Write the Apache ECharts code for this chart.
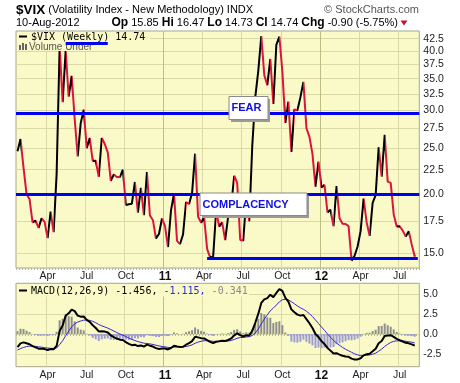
<!DOCTYPE html>
<html><head><meta charset="utf-8">
<script src="https://cdn.jsdelivr.net/npm/echarts@6/dist/echarts.min.js"></script>
<style>html,body{margin:0;padding:0;background:#fff}#c{width:460px;height:383px}</style>
</head><body><div id="c"></div>
<script>
// ---- data (weekly closes from 29-Jan-2010 to 10-Aug-2012) ----
const firstWeek = '2010-01-29';
const vix = [24.62,26.11,22.73,20.02,19.50,17.42,17.58,16.97,17.77,17.47,16.14,18.36,16.62,22.05,40.95,31.24,40.10,32.07,35.48,28.79,24.0,28.2,30.12,24.98,26.25,23.47,23.50,21.74,26.24,25.49,24.45,21.31,21.99,21.72,21.71,22.50,18.96,19.03,19.08,21.20,18.26,20.61,18.04,22.24,18.01,17.61,16.11,16.47,17.75,
17.14,15.46,18.47,20.04,15.93,15.69,16.43,19.22,19.06,20.1,24.32,17.91,17.40,17.87,15.32,14.69,14.75,18.40,17.07,17.43,15.98,17.95,18.86,21.85,21.10,16.0,15.95,19.5,17.52,25.25,32.00,36.36,43.05,35.59,33.92,38.52,30.98,41.25,42.96,36.27,28.24,31.32,24.53,30.16,30.04,32.00,34.47,27.52,26.38,24.29,20.73,23.40,
20.63,20.91,18.28,18.53,17.10,20.79,17.78,17.31,17.29,17.11,14.47,14.82,15.50,16.70,19.55,17.44,16.32,19.16,19.89,25.10,21.76,26.66,21.23,21.11,18.11,17.08,17.10,16.74,16.27,16.70,15.64,14.74];
const macd = [-1.65,-1.17,-1.05,-1.16,-1.28,-1.51,-1.67,-1.83,-1.86,-1.89,-2.0,-1.89,-1.91,
-1.48,0.39,1.07,2.29,2.59,3.06,2.86,2.3,2.17,2.19,1.77,1.52,1.09,0.75,0.32,0.35,0.3,0.18,-0.16,-0.38,-0.57,-0.71,-0.75,
-1.01,-1.24,-1.4,-1.34,-1.51,-1.44,-1.57,-1.33,-1.46,-1.57,-1.77,-1.87,-1.82,-1.82,-1.93,-1.75,-1.46,
-1.55,-1.62,-1.6,-1.34,-1.14,-0.89,-0.34,-0.42,-0.52,-0.56,-0.78,-0.99,-1.15,-0.97,-0.92,-0.84,-0.88,-0.75,-0.56,-0.17,0.07,-0.14,-0.31,-0.16,-0.19,
0.4,1.4,2.51,3.88,4.32,4.48,4.92,4.61,5.13,5.61,5.4,4.53,4.05,3.08,2.73,2.42,2.3,2.38,1.86,1.34,0.75,0.0,-0.38,
-0.89,-1.26,-1.74,-2.08,-2.44,-2.4,-2.58,-2.72,-2.81,-2.86,-3.08,-3.19,-3.18,-3.04,-2.67,-2.52,-2.46,-2.16,-1.85,-1.16,-0.88,-0.25,-0.19,-0.15,-0.35,-0.6,-0.78,-0.94,-1.09,-1.17,-1.3,-1.456];
const signal = [-2.0,-1.83,-1.68,-1.57,-1.52,-1.51,-1.55,-1.6,-1.65,-1.7,-1.76,-1.79,-1.81,
-1.75,-1.32,-0.84,-0.22,0.35,0.89,1.28,1.49,1.62,1.74,1.74,1.7,1.58,1.41,1.19,1.02,0.88,0.74,0.56,0.37,0.18,0.0,-0.15,
-0.32,-0.5,-0.68,-0.81,-0.95,-1.05,-1.15,-1.19,-1.24,-1.31,-1.4,-1.49,-1.56,-1.61,-1.68,-1.69,-1.64,
-1.63,-1.62,-1.62,-1.56,-1.48,-1.36,-1.16,-1.01,-0.91,-0.84,-0.83,-0.86,-0.92,-0.93,-0.93,-0.91,-0.9,-0.87,-0.81,-0.68,-0.53,-0.45,-0.43,-0.37,-0.34,
-0.19,0.13,0.61,1.26,1.87,2.39,2.9,3.24,3.62,4.02,4.29,4.34,4.28,4.04,3.78,3.51,3.27,3.09,2.84,2.54,2.18,1.75,1.32,
0.88,0.45,0.01,-0.41,-0.81,-1.13,-1.42,-1.68,-1.91,-2.1,-2.29,-2.47,-2.61,-2.7,-2.69,-2.66,-2.62,-2.53,-2.39,-2.15,-1.89,-1.56,-1.29,-1.06,-0.92,-0.86,-0.84,-0.86,-0.91,-0.96,-1.03,-1.115];
const hist = [0.35,0.66,0.63,0.41,0.24,0.0,-0.13,-0.23,-0.21,-0.19,-0.24,-0.10,-0.10,
0.27,1.71,1.91,2.51,2.24,2.17,1.58,0.81,0.55,0.45,0.03,-0.18,-0.49,-0.66,-0.87,-0.67,-0.58,-0.56,-0.72,-0.75,-0.75,-0.71,-0.60,
-0.69,-0.74,-0.72,-0.53,-0.56,-0.39,-0.42,-0.14,-0.22,-0.26,-0.37,-0.38,-0.26,-0.21,-0.26,-0.06,0.18,
0.08,0.0,0.02,0.22,0.34,0.47,0.82,0.59,0.39,0.28,0.05,-0.13,-0.23,-0.04,0.01,0.07,0.02,0.12,0.25,0.51,0.60,0.31,0.12,0.21,0.15,
0.59,1.27,1.91,2.62,2.45,2.09,2.02,1.37,1.51,1.59,1.11,0.19,-0.23,-0.96,-1.05,-1.09,-0.97,-0.71,-0.98,-1.20,-1.43,-1.75,-1.70,
-1.77,-1.71,-1.75,-1.68,-1.63,-1.27,-1.16,-1.04,-0.90,-0.76,-0.79,-0.72,-0.57,-0.34,0.02,0.14,0.16,0.37,0.54,0.99,1.01,1.31,1.10,0.91,0.57,0.26,0.06,-0.08,-0.18,-0.21,-0.27,-0.341];
const priceTicks = [15,17.5,20,22.5,25,27.5,30,32.5,35,37.5,40,42.5];
const macdTicks = [-2.5,0,2.5,5];
const tickIdx = [10,23,36,49,62,75,88,101,114,127];
const tickText = ['Apr','Jul','Oct','11','Apr','Jul','Oct','12','Apr','Jul'];
const yearIdx = [49,101];
const fearLevel = 29.63, complacencyLevel = 20, supportLevel = 14.62, supportFrom = 63;
const peakLevel = 41.6, peakFrom = 16, peakTo = 30;

// categories: one per week (+1 empty week at the right edge)
const weeks = [];
const t0 = Date.parse(firstWeek + 'T00:00:00Z');
for (let i = 0; i <= vix.length; i++) weeks.push(new Date(t0 + i * 7 * 864e5).toISOString().slice(0, 10));

const BG = '#FAFAC8', GRID = '#DADAA6', YEAR = '#BDBD86', FRAME = '#A6A68A';
const FONT = 'Liberation Sans, Arial, sans-serif';
const MONO = 'DejaVu Sans Mono, monospace';

const pieces = [];
for (let i = 1; i < vix.length; i++) pieces.push({gt: i - 1, lte: i, color: vix[i] >= vix[i - 1] ? '#000000' : '#DC143C'});

const isTick = i => tickIdx.indexOf(i) >= 0;
const labelFmt = (v, i) => { const k = tickIdx.indexOf(i); if (k < 0) return ''; const t = tickText[k]; return /^\d+$/.test(t) ? '{y|' + t + '}' : t; };
function xAxes(g) {
  return [{
    type: 'category', gridIndex: g, data: weeks, boundaryGap: true,
    axisLine: {show: false},
    axisTick: {show: true, interval: 0, length: 2, lineStyle: {color: '#B4B49A'}},
    axisLabel: {interval: (i) => isTick(i), formatter: labelFmt, margin: 3, color: '#222', fontSize: 10.5, fontFamily: FONT,
      rich: {y: {fontWeight: 'bold', fontSize: 12, fontFamily: FONT, color: '#111'}}},
    splitLine: {show: true, interval: (i) => isTick(i) && yearIdx.indexOf(i) < 0, lineStyle: {color: GRID, width: 1}}
  }, {
    type: 'category', gridIndex: g, data: weeks, boundaryGap: true, position: 'bottom',
    axisLine: {show: false}, axisTick: {show: false}, axisLabel: {show: false},
    splitLine: {show: true, interval: (i) => yearIdx.indexOf(i) >= 0, lineStyle: {color: YEAR, width: 1}}
  }];
}

const chart = echarts.init(document.getElementById('c'), null, {width: 460, height: 383});
const last = vix.length - 1;
chart.setOption({
  animation: false,
  backgroundColor: '#fff',
  grid: [
    {left: 16, top: 31, width: 403.3, height: 237, show: true, backgroundColor: BG, borderColor: FRAME, borderWidth: 1},
    {left: 16, top: 283.3, width: 403.3, height: 83.4, show: true, backgroundColor: BG, borderColor: FRAME, borderWidth: 1}
  ],
  xAxis: [...xAxes(0), ...xAxes(1)],
  yAxis: [{
    type: 'log', logBase: 10, gridIndex: 0, position: 'right', min: 13.963, max: 44.12,
    axisLine: {show: false}, axisTick: {show: false, customValues: priceTicks},
    axisLabel: {customValues: priceTicks, formatter: v => (+v).toFixed(1), margin: 4, color: '#222', fontSize: 10.5, fontFamily: FONT},
    splitLine: {show: true, lineStyle: {color: GRID}}
  }, {
    type: 'value', gridIndex: 1, position: 'right', min: -4.09, max: 6.34,
    axisLine: {show: false}, axisTick: {show: false, customValues: macdTicks},
    axisLabel: {customValues: macdTicks, formatter: v => (+v).toFixed(1), margin: 4, color: '#222', fontSize: 10.5, fontFamily: FONT},
    splitLine: {show: true, lineStyle: {color: GRID}}
  }],
  visualMap: [{type: 'piecewise', show: false, seriesIndex: 0, dimension: 0, pieces: pieces, outOfRange: {color: '#000'}}],
  series: [{
    type: 'line', name: 'VIX', xAxisIndex: 0, yAxisIndex: 0, data: vix, showSymbol: false, z: 2,
    lineStyle: {width: 2}, silent: true,
    markLine: {
      silent: true, symbol: ['none', 'none'], label: {show: false}, z: 5,
      lineStyle: {color: '#0000F0', width: 3, type: 'solid'}, emphasis: {disabled: true},
      data: [
        {yAxis: fearLevel},
        {yAxis: complacencyLevel},
        [{xAxis: weeks[supportFrom], yAxis: supportLevel}, {xAxis: weeks[weeks.length - 1], yAxis: supportLevel}],
        [{xAxis: weeks[peakFrom], yAxis: peakLevel}, {xAxis: weeks[peakTo], yAxis: peakLevel}]
      ]
    }
  }, {
    type: 'bar', name: 'Hist', xAxisIndex: 2, yAxisIndex: 1, data: hist, barWidth: 2, silent: true,
    itemStyle: {color: p => p.value >= 0 ? '#8E8E8E' : '#9C9CD6'}
  }, {
    type: 'line', name: 'Signal', xAxisIndex: 2, yAxisIndex: 1, data: signal, showSymbol: false, silent: true,
    lineStyle: {width: 1, color: '#3A22D6'}, itemStyle: {color: '#3A22D6'}
  }, {
    type: 'line', name: 'MACD', xAxisIndex: 2, yAxisIndex: 1, data: macd, showSymbol: false, silent: true,
    lineStyle: {width: 2, color: '#000'}, itemStyle: {color: '#000'}
  }],
  graphic: [
    // header
    {type: 'text', x: 16, y: 10, z: 10, style: {text: '{b|$VIX} {n|(Volatility Index - New Methodology) INDX}', verticalAlign: 'middle',
      font: '11px ' + FONT, fill: '#000',
      rich: {b: {font: 'bold 13.5px ' + FONT, fill: '#000'}, n: {font: '11px ' + FONT, fill: '#000'}}}},
    {type: 'text', x: 419, y: 10, z: 10, style: {text: '\u00A9 StockCharts.com', align: 'right', verticalAlign: 'middle', font: '11px ' + FONT, fill: '#555'}},
    {type: 'text', x: 16, y: 23, z: 10, style: {text: '10-Aug-2012', verticalAlign: 'middle', font: '11px ' + FONT, fill: '#000'}},
    {type: 'text', x: 398, y: 23, z: 10, style: {
      text: '{b|Op} {n|15.85} {b|Hi} {n|16.47} {b|Lo} {n|14.73} {b|Cl} {n|' + vix[last].toFixed(2) + '} {b|Chg} {n|-0.90 (-5.75%)}',
      align: 'right', verticalAlign: 'middle', font: '11px ' + FONT, fill: '#000',
      rich: {b: {font: 'bold 12px ' + FONT, fill: '#000'}, n: {font: '11px ' + FONT, fill: '#000'}}}},
    {type: 'polygon', z: 10, shape: {points: [[400.5, 20.5], [407.5, 20.5], [404, 25.5]]}, style: {fill: '#C8102E'}},
    // price legend
    {type: 'rect', z: 3, shape: {x: 17, y: 32, width: 133, height: 19}, style: {fill: BG}},
    {type: 'line', z: 4, shape: {x1: 19, y1: 36.5, x2: 27, y2: 36.5}, style: {stroke: '#000', lineWidth: 2}},
    {type: 'text', x: 31, y: 37, z: 4, style: {text: '$VIX (Weekly) ' + vix[last].toFixed(2), verticalAlign: 'middle', font: '10px ' + MONO, fill: '#000'}},
    {type: 'rect', z: 4, shape: {x: 19, y: 45, width: 2, height: 5}, style: {fill: '#666'}},
    {type: 'rect', z: 4, shape: {x: 22, y: 43, width: 2, height: 7}, style: {fill: '#666'}},
    {type: 'rect', z: 4, shape: {x: 25, y: 44, width: 2, height: 6}, style: {fill: '#666'}},
    {type: 'text', x: 29, y: 47, z: 4, style: {text: 'Volume Under', verticalAlign: 'middle', font: '10px ' + FONT, fill: '#555'}},
    // MACD legend
    {type: 'rect', z: 3, shape: {x: 17, y: 284.5, width: 232, height: 12}, style: {fill: BG}},
    {type: 'line', z: 4, shape: {x1: 19, y1: 290.5, x2: 27, y2: 290.5}, style: {stroke: '#000', lineWidth: 2}},
    {type: 'text', x: 31, y: 291, z: 4, style: {
      text: '{k|MACD(12,26,9) ' + macd[last].toFixed(3) + ',}{s| ' + signal[last].toFixed(3) + ',}{h| ' + hist[last].toFixed(3) + '}',
      verticalAlign: 'middle', font: '10px ' + MONO,
      rich: {k: {font: '10px ' + MONO, fill: '#000'}, s: {font: '10px ' + MONO, fill: '#2B2BD0'}, h: {font: '10px ' + MONO, fill: '#888'}}}},
    // annotation boxes
    {type: 'rect', z: 10, shape: {x: 231, y: 99, width: 39, height: 23}, style: {fill: '#9A9A9A'}},
    {type: 'rect', z: 11, shape: {x: 229, y: 96.5, width: 39, height: 23}, style: {fill: '#fff', stroke: '#8A8A8A', lineWidth: 1}},
    {type: 'text', x: 231.5, y: 108.3, z: 12, style: {text: 'FEAR', verticalAlign: 'middle', font: 'bold 11px ' + FONT, fill: '#1010E0'}},
    {type: 'rect', z: 10, shape: {x: 202, y: 195.5, width: 107, height: 22.5}, style: {fill: '#9A9A9A'}},
    {type: 'rect', z: 11, shape: {x: 200, y: 193, width: 107, height: 22.5}, style: {fill: '#fff', stroke: '#8A8A8A', lineWidth: 1}},
    {type: 'text', x: 202.5, y: 204.5, z: 12, style: {text: 'COMPLACENCY', verticalAlign: 'middle', font: 'bold 11px ' + FONT, fill: '#1010E0'}}
  ]
});
</script>
</body></html>
